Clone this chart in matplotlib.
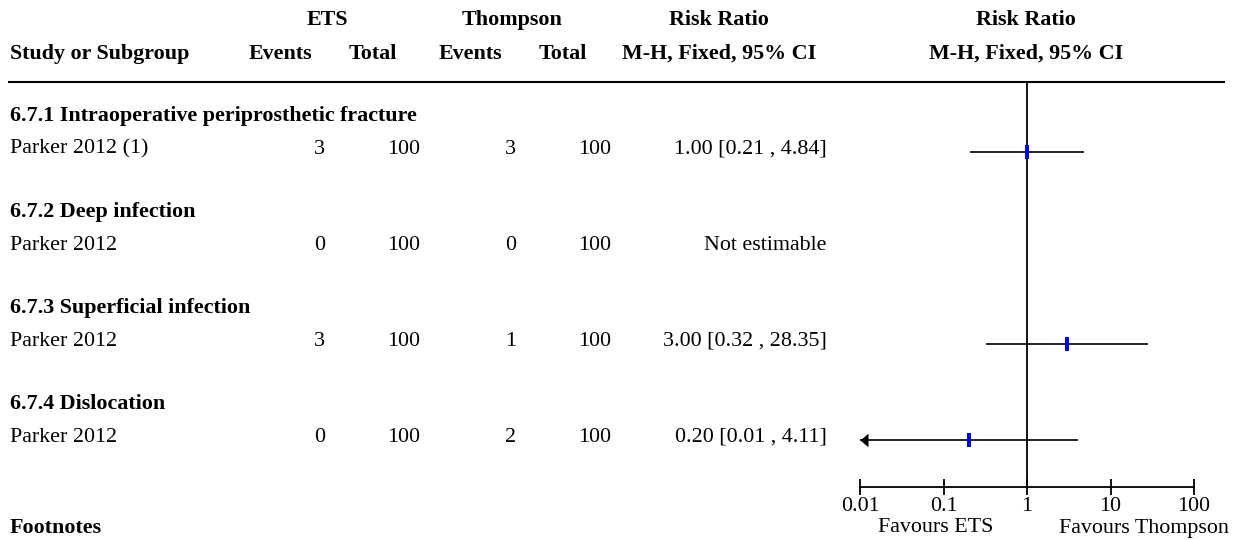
import numpy as np
import matplotlib
matplotlib.use("Agg")
import matplotlib.pyplot as plt
from matplotlib.path import Path
from matplotlib.ticker import NullLocator
from matplotlib.transforms import Affine2D

plt.rcParams["font.family"] = ["Liberation Serif", "DejaVu Serif"]

# ---- data -------------------------------------------------------------
subgroups = [
    "6.7.1 Intraoperative periprosthetic fracture",
    "6.7.2 Deep infection",
    "6.7.3 Superficial infection",
    "6.7.4 Dislocation",
]
studies = ["Parker 2012 (1)", "Parker 2012", "Parker 2012", "Parker 2012"]
ets_events = [3, 0, 3, 0]
ets_total = [100, 100, 100, 100]
thompson_events = [3, 0, 1, 2]
thompson_total = [100, 100, 100, 100]
risk_ratio = [1.00, np.nan, 3.00, 0.20]
ci_low = [0.21, np.nan, 0.32, 0.01]
ci_high = [4.84, np.nan, 28.35, 4.11]
axis_ticks = [0.01, 0.1, 1, 10, 100]
axis_ticklabels = ["0.01", "0.1", "1", "10", "100"]

# ---- layout (pixel units) ---------------------------------------------
W, H = 1237, 540
FS = 15.8
fig = plt.figure(figsize=(W / 100, H / 100), dpi=100)
ax = fig.add_axes([0, 0, 1, 1])
ax.set_xlim(0, W)
ax.set_ylim(H, 0)
ax.axis("off")

bold = dict(fontsize=FS, fontweight="bold", color="black")
norm = dict(fontsize=FS, color="black")

# column headers
h1, h2 = 20, 54
ax.text(327, h1, "ETS", ha="center", va="center", **bold)
ax.text(512, h1, "Thompson", ha="center", va="center", **bold)
ax.text(719, h1, "Risk Ratio", ha="center", va="center", **bold)
ax.text(1026, h1, "Risk Ratio", ha="center", va="center", **bold)
ax.text(10, h2, "Study or Subgroup", ha="left", va="center", **bold)
ax.text(280, h2, "Events", ha="center", va="center", **bold)
ax.text(373, h2, "Total", ha="center", va="center", **bold)
ax.text(470, h2, "Events", ha="center", va="center", **bold)
ax.text(563, h2, "Total", ha="center", va="center", **bold)
ax.text(719, h2, "M-H, Fixed, 95% CI", ha="center", va="center", **bold)
ax.text(1026, h2, "M-H, Fixed, 95% CI", ha="center", va="center", **bold)
ax.plot([8, 1225], [82, 82], color="black", lw=1.5, solid_capstyle="butt")

row_step = 96
head_y0 = 116
study_y0 = 149
line_y0 = 152

for i, name in enumerate(subgroups):
    hy = head_y0 + i * row_step
    sy = study_y0 + i * row_step
    ax.text(10, hy, name, ha="left", va="center", **bold)
    ax.text(10, sy, studies[i], ha="left", va="center", **norm)
    ax.text(325, sy, str(ets_events[i]), ha="right", va="center", **norm)
    ax.text(420, sy, str(ets_total[i]), ha="right", va="center", **norm)
    ax.text(516, sy, str(thompson_events[i]), ha="right", va="center", **norm)
    ax.text(611, sy, str(thompson_total[i]), ha="right", va="center", **norm)
    if np.isnan(risk_ratio[i]):
        label = "Not estimable"
    else:
        label = f"{risk_ratio[i]:.2f} [{ci_low[i]:.2f} , {ci_high[i]:.2f}]"
    ax.text(827, sy, label, ha="right", va="center", **norm)

ax.text(10, 528, "Footnotes", ha="left", va="center", **bold)
ax.text(936, 528, "Favours ETS", ha="center", va="center", **norm)
ax.text(1144, 528, "Favours Thompson", ha="center", va="center", **norm)

# ---- forest panel -----------------------------------------------------
x0, x1 = 860, 1194
y_top, y_axis = 82, 487
fax = fig.add_axes([x0 / W, (H - y_axis) / H, (x1 - x0) / W, (y_axis - y_top) / H])
fax.set_xscale("log")
fax.set_xlim(axis_ticks[0], axis_ticks[-1])
fax.set_ylim(y_axis, y_top)
fax.patch.set_alpha(0)
for side in ("top", "left", "right"):
    fax.spines[side].set_visible(False)
fax.spines["bottom"].set_linewidth(1.3)
fax.set_yticks([])
fax.set_xticks(axis_ticks)
fax.set_xticklabels(axis_ticklabels)
fax.xaxis.set_minor_locator(NullLocator())
fax.tick_params(axis="x", direction="inout", length=12, width=1.3,
                labelsize=FS, pad=1)
fax.axvline(1, color="black", lw=1.3)

box_marker = Path([(-0.32, -1), (0.32, -1), (0.32, 1), (-0.32, 1), (-0.32, -1)],
                  [Path.MOVETO, Path.LINETO, Path.LINETO, Path.LINETO, Path.CLOSEPOLY])
arrow_left = Path([(0, 0), (1, 0.85), (1, -0.85), (0, 0)],
                  [Path.MOVETO, Path.LINETO, Path.LINETO, Path.CLOSEPOLY])
arrow_right = arrow_left.transformed(Affine2D().scale(-1, 1))

xmin, xmax = axis_ticks[0], axis_ticks[-1]
for i in range(len(subgroups)):
    if np.isnan(risk_ratio[i]):
        continue
    y = line_y0 + i * row_step
    lo = max(ci_low[i], xmin)
    hi = min(ci_high[i], xmax)
    fax.plot([lo, hi], [y, y], color="black", lw=1.2, solid_capstyle="butt",
             clip_on=False)
    if ci_low[i] <= xmin:
        fax.plot([xmin], [y], marker=arrow_left, markersize=11.5,
                 color="black", markeredgewidth=0, clip_on=False)
    if ci_high[i] >= xmax:
        fax.plot([xmax], [y], marker=arrow_right, markersize=11.5,
                 color="black", markeredgewidth=0, clip_on=False)
    fax.plot([risk_ratio[i]], [y], marker=box_marker, markersize=10,
             color="#0000ee", markeredgewidth=0, clip_on=False, zorder=5)

fig.savefig("out.png", dpi=100)
